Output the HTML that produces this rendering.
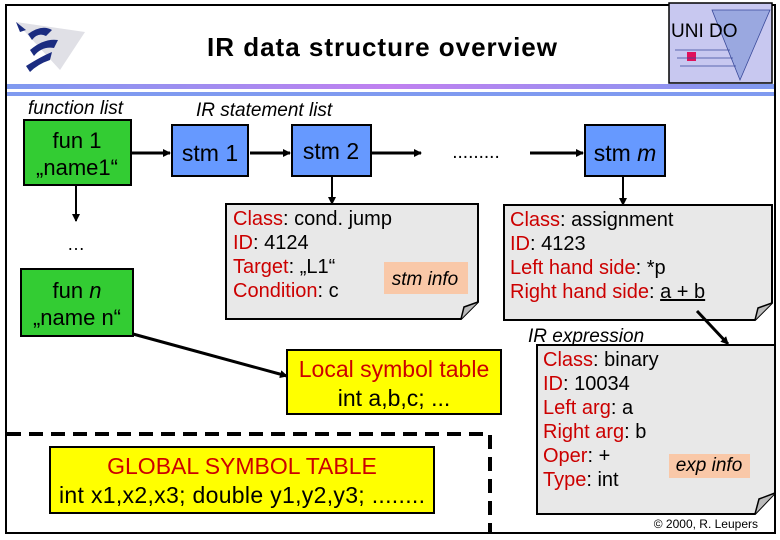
<!DOCTYPE html>
<html><head><meta charset="utf-8"><style>
html,body{margin:0;padding:0;background:#fff;}
svg{display:block;font-family:"Liberation Sans",Arial,sans-serif;}
</style></head><body>
<svg width="780" height="540" viewBox="0 0 780 540" xmlns="http://www.w3.org/2000/svg">
<defs>
<linearGradient id="bar" x1="0" x2="1" y1="0" y2="0">
<stop offset="0" stop-color="#7f9af0"/><stop offset="0.5" stop-color="#c080f0"/><stop offset="1" stop-color="#7f9af0"/>
</linearGradient>
<marker id="ah" markerWidth="8" markerHeight="8" refX="7" refY="4" orient="auto" markerUnits="userSpaceOnUse">
<path d="M0,0 L8,4 L0,8 z" fill="#000"/></marker>
</defs>
<rect x="6" y="5" width="769" height="528" fill="#fff" stroke="#000" stroke-width="2"/>
<!-- left logo -->
<polygon points="16,22 85,32 60,70" fill="#e0e0e6"/>
<path d="M16,22 l10,8 l-6,2 z M28,34 q14,-10 24,-4 l-6,6 q-8,-4 -14,4 z M30,50 q14,-12 28,-10 l-4,8 q-12,-2 -20,8 z M26,66 q16,-10 26,-14 l-2,8 q-12,4 -20,12 z" fill="#1b2c80"/>
<!-- UNIDO logo -->
<rect x="669" y="3" width="103" height="80" fill="#c8c8f0" stroke="#000" stroke-width="1.5"/>
<polygon points="712,10 770,10 740,80" fill="#9aa8e0" stroke="#3a4a9a" stroke-width="0.8"/>
<rect x="687" y="52" width="9" height="9" fill="#e0105a"/>
<path d="M675,50 L730,50 M677,58 L733,58 M680,66 L736,66" stroke="#3a4a9a" stroke-width="0.8"/>
<text x="671" y="37" font-size="19" fill="#000">UNI DO</text>
<!-- title -->
<text x="382" y="56" font-size="26" font-weight="bold" text-anchor="middle" fill="#000" textLength="350">IR data structure overview</text>
<rect x="7" y="84" width="767" height="5" fill="url(#bar)"/>
<rect x="7" y="92" width="767" height="4" fill="#7f9af0"/>
<!-- labels -->
<text x="28" y="114" font-size="19" font-style="italic">function list</text>
<text x="196" y="116" font-size="19" font-style="italic">IR statement list</text>
<!-- function boxes -->
<rect x="24" y="120" width="107" height="65" fill="#33cc33" stroke="#000" stroke-width="2"/>
<text x="77" y="148" font-size="22" text-anchor="middle">fun 1</text>
<text x="77" y="175" font-size="22" text-anchor="middle">„name1“</text>
<line x1="76" y1="186" x2="76" y2="221" stroke="#000" stroke-width="2" marker-end="url(#ah)"/>
<text x="76" y="250" font-size="18" text-anchor="middle">…</text>
<rect x="21" y="269" width="112" height="67" fill="#33cc33" stroke="#000" stroke-width="2"/>
<text x="77" y="298" font-size="22" text-anchor="middle">fun <tspan font-style="italic">n</tspan></text>
<text x="77" y="325" font-size="22" text-anchor="middle">„name n“</text>
<line x1="133" y1="334" x2="287" y2="376" stroke="#000" stroke-width="3" marker-end="url(#ah)"/>
<!-- stm boxes -->
<rect x="172" y="125" width="76" height="51" fill="#6699ff" stroke="#000" stroke-width="2"/>
<text x="210" y="161" font-size="23" text-anchor="middle">stm 1</text>
<rect x="292" y="125" width="79" height="51" fill="#6699ff" stroke="#000" stroke-width="2"/>
<text x="331" y="159" font-size="23" text-anchor="middle">stm 2</text>
<rect x="585" y="125" width="80" height="51" fill="#6699ff" stroke="#000" stroke-width="2"/>
<text x="625" y="161" font-size="23" text-anchor="middle">stm <tspan font-style="italic">m</tspan></text>
<g stroke="#000" stroke-width="3">
<line x1="132" y1="153" x2="170" y2="153" marker-end="url(#ah)"/>
<line x1="250" y1="153" x2="290" y2="153" marker-end="url(#ah)"/>
<line x1="372" y1="153" x2="421" y2="153" marker-end="url(#ah)"/>
<line x1="530" y1="153" x2="583" y2="153" marker-end="url(#ah)"/>
</g>
<text x="476" y="158" font-size="19" text-anchor="middle">.........</text>
<line x1="332" y1="177" x2="332" y2="204" stroke="#000" stroke-width="2" marker-end="url(#ah)"/>
<line x1="623" y1="177" x2="623" y2="205" stroke="#000" stroke-width="2" marker-end="url(#ah)"/>
<!-- stm info box -->
<path d="M226,204 L478,204 L478,302 L461,319 L226,319 Z" fill="#e8e8e8" stroke="#000" stroke-width="2"/>
<path d="M461,319 L464,307 L478,302" fill="#bbb" stroke="#000" stroke-width="1.5"/>
<g font-size="20">
<text x="233" y="225"><tspan fill="#cc0000">Class</tspan>: cond. jump</text>
<text x="233" y="249"><tspan fill="#cc0000">ID</tspan>: 4124</text>
<text x="233" y="273"><tspan fill="#cc0000">Target</tspan>: „L1“</text>
<text x="233" y="297"><tspan fill="#cc0000">Condition</tspan>: c</text>
</g>
<rect x="384" y="262" width="84" height="32" fill="#f9c8a8"/>
<text x="425" y="285" font-size="19" font-style="italic" text-anchor="middle">stm info</text>
<!-- assignment box -->
<path d="M504,205 L772,205 L772,303 L755,320 L504,320 Z" fill="#e8e8e8" stroke="#000" stroke-width="2"/>
<path d="M755,320 L758,308 L772,303" fill="#bbb" stroke="#000" stroke-width="1.5"/>
<g font-size="20">
<text x="510" y="226"><tspan fill="#cc0000">Class</tspan>: assignment</text>
<text x="510" y="250"><tspan fill="#cc0000">ID</tspan>: 4123</text>
<text x="510" y="274"><tspan fill="#cc0000">Left hand side</tspan>: *p</text>
<text x="510" y="298"><tspan fill="#cc0000">Right hand side</tspan>: <tspan text-decoration="underline">a + b</tspan></text>
</g>
<line x1="697" y1="311" x2="728" y2="344" stroke="#000" stroke-width="3" marker-end="url(#ah)"/>
<text x="528" y="342" font-size="19" font-style="italic">IR expression</text>
<!-- expression box -->
<path d="M537,345 L775,345 L775,493 L755,514 L537,514 Z" fill="#e8e8e8" stroke="#000" stroke-width="2"/>
<path d="M755,514 L759,499 L775,493" fill="#bbb" stroke="#000" stroke-width="1.5"/>
<g font-size="20">
<text x="543" y="366"><tspan fill="#cc0000">Class</tspan>: binary</text>
<text x="543" y="390"><tspan fill="#cc0000">ID</tspan>: 10034</text>
<text x="543" y="414"><tspan fill="#cc0000">Left arg</tspan>: a</text>
<text x="543" y="438"><tspan fill="#cc0000">Right arg</tspan>: b</text>
<text x="543" y="462"><tspan fill="#cc0000">Oper</tspan>: +</text>
<text x="543" y="486"><tspan fill="#cc0000">Type</tspan>: int</text>
</g>
<rect x="669" y="454" width="81" height="24" fill="#f9c8a8"/>
<text x="709" y="471" font-size="19" font-style="italic" text-anchor="middle">exp info</text>
<!-- local symbol table -->
<rect x="287" y="350" width="214" height="64" fill="#ffff00" stroke="#000" stroke-width="2"/>
<text x="394" y="377" font-size="23" fill="#cc0000" text-anchor="middle">Local symbol table</text>
<text x="394" y="406" font-size="23" text-anchor="middle">int a,b,c; ...</text>
<!-- dashed global region -->
<path d="M7,434 L490,434 L490,533" fill="none" stroke="#000" stroke-width="4" stroke-dasharray="14,8"/>
<rect x="50" y="447" width="384" height="66" fill="#ffff00" stroke="#000" stroke-width="2"/>
<text x="242" y="474" font-size="23" fill="#cc0000" text-anchor="middle">GLOBAL SYMBOL TABLE</text>
<text x="242" y="503" font-size="23" text-anchor="middle" textLength="366">int x1,x2,x3; double y1,y2,y3; ........</text>
<text x="758" y="528" font-size="12" text-anchor="end">© 2000, R. Leupers</text>
</svg>
</body></html>
